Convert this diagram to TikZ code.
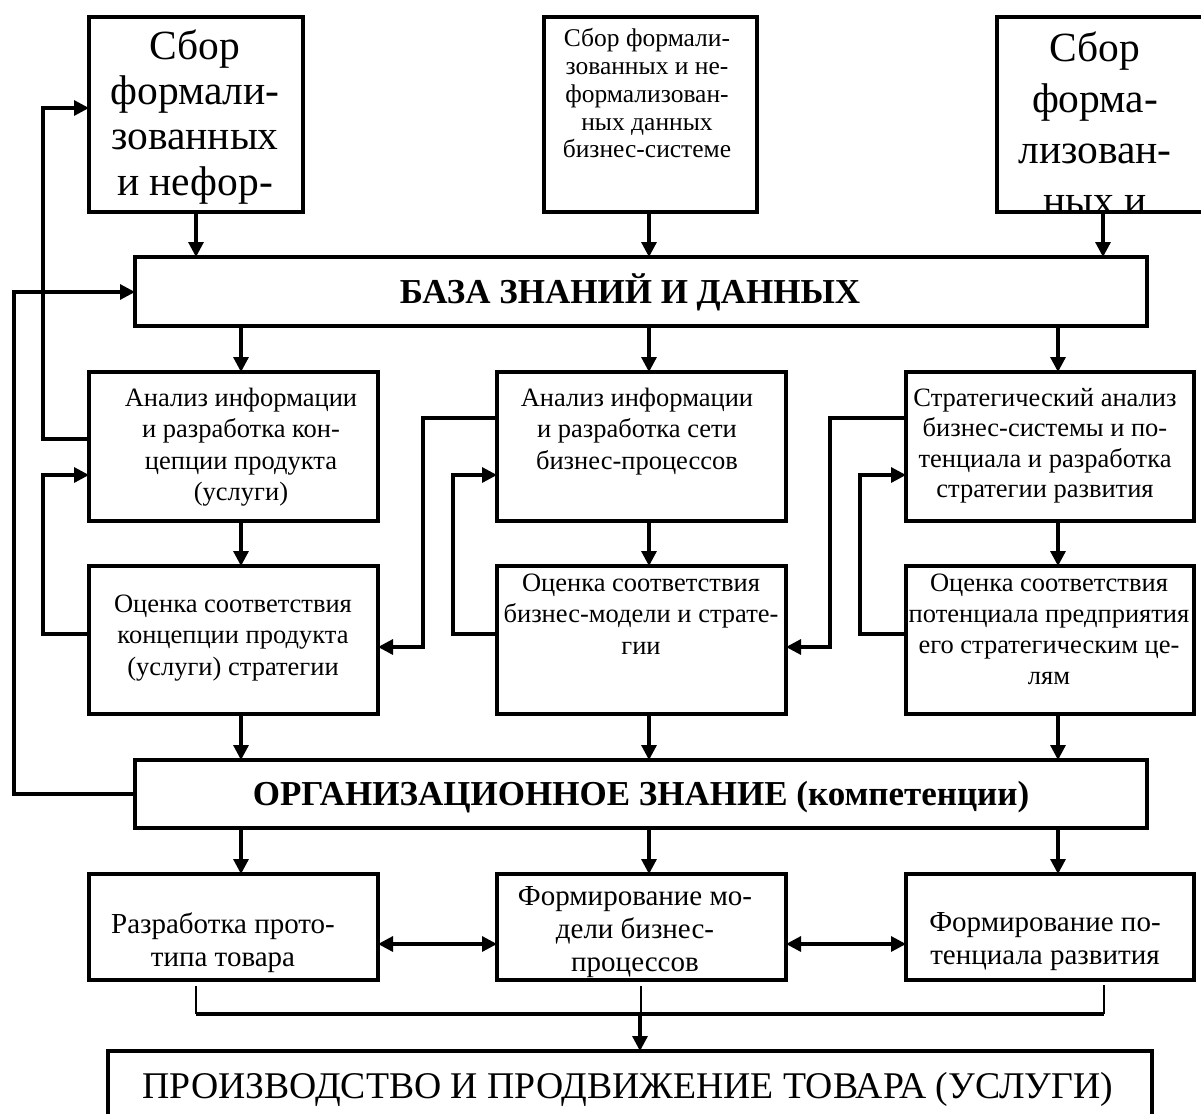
\documentclass[tikz,border=0pt]{standalone}
\usepackage{fontspec}
\setmainfont{Liberation Serif}
\usetikzlibrary{arrows.meta,calc}
\newcommand\txtrows[1]{\begin{tabular}[t]{@{}c@{}}#1\end{tabular}}
\begin{document}
\begin{tikzpicture}[x=1pt,y=-1pt,
  box/.style={draw, line width=3.2pt, inner sep=0pt, outer sep=0pt},
  flow/.style={line width=3.2pt, -{Triangle[length=15pt,width=15pt]}},
  both/.style={line width=3.2pt, {Triangle[length=15pt,width=15pt]}-{Triangle[length=15pt,width=15pt]}},
  link/.style={line width=3.2pt},
  hair/.style={line width=1.3pt},
  txt/.style={inner sep=0pt, outer sep=0pt, anchor=base, font=\fontsize{26.5}{31.5}\selectfont},
  low/.style={inner sep=0pt, outer sep=0pt, anchor=base, font=\fontsize{29}{33}\selectfont},
  big/.style={inner sep=0pt, outer sep=0pt, anchor=base, font=\fontsize{41.5}{45}\selectfont},
  head/.style={inner sep=0pt, outer sep=0pt, anchor=base, font=\fontsize{35}{40}\selectfont\bfseries},
  result/.style={inner sep=0pt, outer sep=0pt, anchor=base, font=\fontsize{37.7}{42}\selectfont},
  line join=miter]
\useasboundingbox (0,0) rectangle (1201,1113);
\fill[white] (0,0) rectangle (1201,1113);
\clip (0,0) rectangle (1201,1113);

% ---- boxes ----
\node[box, minimum width=214pt, minimum height=195pt] (tl) at (196,114.5) {};
\node[box, minimum width=213pt, minimum height=195pt] (tm) at (650.5,114.5) {};
\node[box, minimum width=214pt, minimum height=195pt] (tr) at (1104,114.5) {};
\node[box, minimum width=1012pt, minimum height=69pt] (kb) at (641,291.5) {};
\node[box, minimum width=289pt, minimum height=149pt] (a1) at (233.5,446.5) {};
\node[box, minimum width=289pt, minimum height=149pt] (a2) at (641.5,446.5) {};
\node[box, minimum width=288pt, minimum height=149pt] (a3) at (1050,446.5) {};
\node[box, minimum width=289pt, minimum height=148pt] (e1) at (233.5,640) {};
\node[box, minimum width=289pt, minimum height=148pt] (e2) at (641.5,640) {};
\node[box, minimum width=288pt, minimum height=148pt] (e3) at (1050,640) {};
\node[box, minimum width=1012pt, minimum height=68pt] (org) at (641,794) {};
\node[box, minimum width=289pt, minimum height=106pt] (b1) at (233.5,927) {};
\node[box, minimum width=289pt, minimum height=106pt] (b2) at (641.5,927) {};
\node[box, minimum width=288pt, minimum height=106pt] (b3) at (1050,927) {};
\node[box, minimum width=1044pt, minimum height=80pt] (out) at (630,1091) {};

% ---- texts ----
\begin{scope}
  \clip ([shift={(1.6pt,-1.6pt)}]tl.north west) rectangle ([shift={(-1.6pt,1.6pt)}]tl.south east);
  \node[big] (tlt) at (195,60) {\txtrows{Сбор\\формали-\\зованных\\и нефор-}};
\end{scope}
\begin{scope}
  \clip ([shift={(1.6pt,-1.6pt)}]tr.north west) rectangle ([shift={(-1.6pt,1.6pt)}]tr.south east);
  \node[big, font=\fontsize{41.5}{51}\selectfont] (trt) at (1095,62) {\txtrows{Сбор\\форма-\\лизован-\\ных и}};
\end{scope}
\node[txt, font=\fontsize{25.5}{27.7}\selectfont] (tmt) at (647,47) {\txtrows{Сбор формали-\\зованных и не-\\формализован-\\ных данных\\бизнес-системе}};
\node[head] (kbt) at (630,303) {БАЗА ЗНАНИЙ И ДАННЫХ};
\node[txt] (a1t) at (241,406) {\txtrows{Анализ информации\\и разработка кон-\\цепции продукта\\(услуги)}};
\node[txt] (a2t) at (637,406) {\txtrows{Анализ информации\\и разработка сети\\бизнес-процессов}};
\node[txt, font=\fontsize{26.5}{30.5}\selectfont] (a3t) at (1045,406) {\txtrows{Стратегический анализ\\бизнес-системы и по-\\тенциала и разработка\\стратегии развития}};
\node[txt] (e1t) at (233,612) {\txtrows{Оценка соответствия\\концепции продукта\\(услуги) стратегии}};
\node[txt] (e2t) at (641,591) {\txtrows{Оценка соответствия\\бизнес-модели и страте-\\гии}};
\node[txt, font=\fontsize{26.5}{31}\selectfont] (e3t) at (1049,591) {\txtrows{Оценка соответствия\\потенциала предприятия\\его стратегическим це-\\лям}};
\node[head] (orgt) at (641,805) {ОРГАНИЗАЦИОННОЕ ЗНАНИЕ (компетенции)};
\node[low] (b1t) at (223,933) {\txtrows{Разработка прото-\\типа товара}};
\node[low] (b2t) at (635,905) {\txtrows{Формирование мо-\\дели бизнес-\\процессов}};
\node[low] (b3t) at (1045,931) {\txtrows{Формирование по-\\тенциала развития}};
\node[result] (outt) at (628,1098) {ПРОИЗВОДСТВО И ПРОДВИЖЕНИЕ ТОВАРА (УСЛУГИ)};

% ---- vertical flow ----
\coordinate (cL) at (241,0);
\coordinate (cM) at (649,0);
\coordinate (cR) at (1058,0);
\coordinate (cT) at (1103,0);
\draw[flow] (tl.south) -- (kb.north -| tl.south);
\draw[flow] (tm.south -| cM) -- (kb.north -| cM);
\draw[flow] (tr.south -| cT) -- (kb.north -| cT);
\draw[flow] (kb.south -| cL) -- (a1.north -| cL);
\draw[flow] (kb.south -| cM) -- (a2.north -| cM);
\draw[flow] (kb.south -| cR) -- (a3.north -| cR);
\draw[flow] (a1.south -| cL) -- (e1.north -| cL);
\draw[flow] (a2.south -| cM) -- (e2.north -| cM);
\draw[flow] (a3.south -| cR) -- (e3.north -| cR);
\draw[flow] (e1.south -| cL) -- (org.north -| cL);
\draw[flow] (e2.south -| cM) -- (org.north -| cM);
\draw[flow] (e3.south -| cR) -- (org.north -| cR);
\draw[flow] (org.south -| cL) -- (b1.north -| cL);
\draw[flow] (org.south -| cM) -- (b2.north -| cM);
\draw[flow] (org.south -| cR) -- (b3.north -| cR);

% ---- feedback loops on the left ----
\coordinate (l1a) at (43,439);  \coordinate (l1b) at (43,108);
\draw[flow] (a1.west |- l1a) -- (l1a) -- (l1b) -- (tl.west |- l1b);
\coordinate (l2a) at (43,634);  \coordinate (l2b) at (43,475);
\draw[flow] (e1.west |- l2a) -- (l2a) -- (l2b) -- (a1.west |- l2b);
\coordinate (l3a) at (14,794);  \coordinate (l3b) at (14,292);
\draw[flow] (org.west |- l3a) -- (l3a) -- (l3b) -- (kb.west |- l3b);

% ---- cross links between columns ----
\coordinate (m1a) at (423,418); \coordinate (m1b) at (423,647);
\draw[flow] (a2.west |- m1a) -- (m1a) -- (m1b) -- (e1.east |- m1b);
\coordinate (m2a) at (453,634); \coordinate (m2b) at (453,475);
\draw[flow] (e2.west |- m2a) -- (m2a) -- (m2b) -- (a2.west |- m2b);
\coordinate (r1a) at (830,418); \coordinate (r1b) at (830,647);
\draw[flow] (a3.west |- r1a) -- (r1a) -- (r1b) -- (e2.east |- r1b);
\coordinate (r2a) at (860,634); \coordinate (r2b) at (860,475);
\draw[flow] (e3.west |- r2a) -- (r2a) -- (r2b) -- (a3.west |- r2b);

% ---- bottom row links ----
\coordinate (hB) at (0,944);
\draw[both] (b1.east |- hB) -- (b2.west |- hB);
\draw[both] (b2.east |- hB) -- (b3.west |- hB);

% ---- bracket to the output ----
\coordinate (k1) at (196,1014);
\coordinate (k2) at (641,1014);
\coordinate (k3) at (1104,1014);
\coordinate (kd) at (640,1014);
\draw[hair] ([yshift=-6pt]b1.south -| k1) -- (k1);
\draw[hair] ([yshift=-6pt]b2.south -| k2) -- (k2);
\draw[hair] ([yshift=-5pt]b3.south -| k3) -- (k3);
\draw[link] (k1) -- (k3);
\draw[flow] (kd) -- (out.north -| kd);
\end{tikzpicture}
\end{document}
